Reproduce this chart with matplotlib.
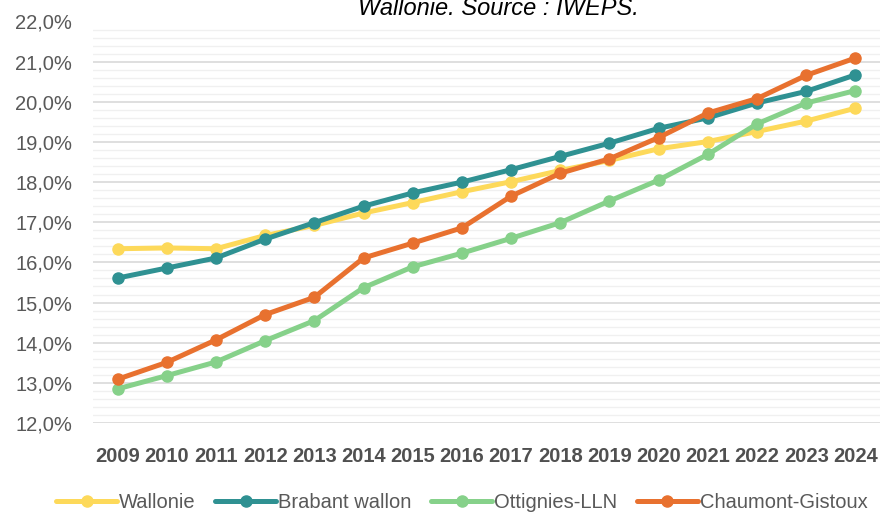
import matplotlib.pyplot as plt
from matplotlib.ticker import MultipleLocator, FuncFormatter

plt.rcParams['font.family'] = ['Liberation Sans', 'DejaVu Sans']

years = list(range(2009, 2025))

wallonie = [16.34, 16.36, 16.34, 16.67, 16.92, 17.23, 17.49, 17.76, 18.01, 18.29,
            18.54, 18.83, 19.01, 19.26, 19.52, 19.84]
brabant = [15.61, 15.86, 16.11, 16.58, 16.99, 17.40, 17.73, 18.00, 18.31, 18.64,
           18.97, 19.34, 19.60, 19.97, 20.26, 20.67]
ottignies = [12.85, 13.18, 13.52, 14.05, 14.55, 15.37, 15.89, 16.23, 16.60, 16.99,
             17.53, 18.05, 18.69, 19.45, 19.97, 20.28]
chaumont = [13.09, 13.51, 14.07, 14.70, 15.13, 16.11, 16.48, 16.86, 17.65, 18.22,
            18.58, 19.11, 19.72, 20.08, 20.66, 21.09]

series = [("Wallonie", wallonie, "#FDD95A"),
          ("Brabant wallon", brabant, "#2F9192"),
          ("Ottignies-LLN", ottignies, "#86D18A"),
          ("Chaumont-Gistoux", chaumont, "#E8712F")]

fig = plt.figure(figsize=(8.83, 5.13), dpi=100)
ax = fig.add_axes([93/883, 1 - 423/513, (880 - 93)/883, (423 - 21.5)/513])

x = list(range(len(years)))
for name, vals, col in series:
    ax.plot(x, vals, color=col, lw=3.6, marker='o', ms=8, label=name,
            solid_capstyle='round', zorder=3)

ax.set_ylim(12, 22)
ax.set_xlim(-0.5, len(years) - 0.5)
ax.yaxis.set_major_locator(MultipleLocator(1))
ax.yaxis.set_minor_locator(MultipleLocator(0.2))
ax.yaxis.set_major_formatter(FuncFormatter(lambda v, p: f"{v:.1f}%".replace('.', ',')))
ax.grid(which='major', axis='y', color='#D9D9D9', lw=1.2, zorder=0)
ax.grid(which='minor', axis='y', color='#F0F0F0', lw=1.0, zorder=0)
ax.set_xticks(x)
ax.set_xticklabels([str(y) for y in years], fontweight='bold', fontsize=14.5, color='#505050')
ax.tick_params(axis='y', labelsize=14.5, labelcolor='#595959', length=0, pad=15)
ax.tick_params(axis='x', length=0, pad=17)
ax.tick_params(which='minor', length=0)
for s in ax.spines.values():
    s.set_visible(False)

fig.text(0.565, 1 - 15/513, "Wallonie. Source : IWEPS.", ha='center', va='baseline',
         fontsize=17, style='italic', color='#000000')

leg = fig.legend(loc='center', bbox_to_anchor=(0.523, 1 - 503/513), ncol=4, frameon=False,
                 fontsize=14.5, handlelength=3.0, columnspacing=1.0, handletextpad=0.1,
                 labelcolor='#595959')

fig.savefig("out.png", dpi=100)
